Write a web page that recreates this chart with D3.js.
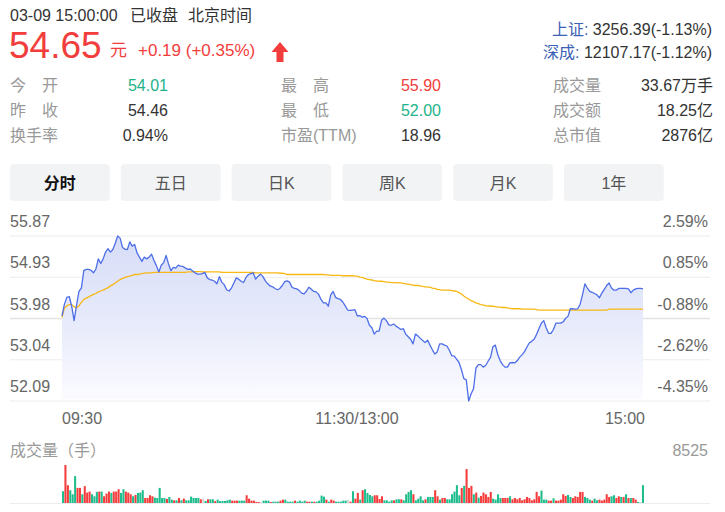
<!DOCTYPE html>
<html><head><meta charset="utf-8">
<script src="https://cdn.jsdelivr.net/npm/d3@7"></script>
<style>html,body{margin:0;padding:0;background:#fff;} svg{display:block;font-family:"Liberation Sans",Arial,"Noto Sans CJK SC",sans-serif;}</style>
</head><body><svg id="c" width="725" height="512"></svg>
<script>
// ---------- data ----------
const prices = [
54.01,54.29,54.45,54.47,54.24,53.90,54.26,54.59,54.67,55.08,
55.11,55.11,55.09,55.03,55.12,55.36,55.25,55.36,55.52,55.60,
55.52,55.58,55.73,55.90,55.85,55.63,55.59,55.58,55.76,55.66,
55.70,55.50,55.40,55.30,55.40,55.36,55.40,55.47,55.32,55.20,
55.05,55.21,55.27,55.44,55.24,55.08,55.16,55.14,55.21,55.19,
55.18,55.14,55.11,55.12,55.07,55.03,55.00,55.00,55.01,55.04,
54.91,54.87,54.86,54.83,54.77,54.94,54.81,54.75,54.63,54.60,
54.67,54.79,54.91,54.88,54.83,54.80,54.92,54.99,55.01,55.03,
54.88,54.95,55.00,54.94,54.84,54.77,54.72,54.70,54.66,54.63,
54.66,54.73,54.82,54.84,54.81,54.69,54.66,54.65,54.61,54.55,
54.53,54.60,54.69,54.64,54.59,54.58,54.52,54.40,54.32,54.32,
54.24,54.51,54.59,54.45,54.42,54.40,54.34,54.25,54.15,54.14,
54.15,54.16,54.01,54.02,53.98,54.00,53.95,53.79,53.73,53.58,
53.65,53.65,53.91,53.96,53.90,53.80,53.79,53.82,53.77,53.73,
53.69,53.71,53.58,53.52,53.46,53.35,53.58,53.54,53.48,53.43,
53.38,53.44,53.32,53.21,53.11,53.16,53.35,53.35,53.32,53.30,
53.20,53.07,53.06,52.99,52.91,52.74,52.53,52.50,52.00,52.17,
52.29,52.78,52.86,52.86,52.80,52.84,52.94,53.03,53.28,53.32,
53.10,52.95,52.86,52.80,52.80,52.90,52.91,52.90,52.95,53.03,
53.09,53.16,53.27,53.37,53.41,53.46,53.57,53.71,53.84,53.90,
53.73,53.60,53.60,53.69,53.84,53.84,53.84,53.87,53.95,54.00,
54.18,54.18,54.17,54.18,54.28,54.51,54.77,54.67,54.59,54.57,
54.54,54.51,54.44,54.55,54.64,54.73,54.79,54.67,54.62,54.62,
54.66,54.66,54.66,54.66,54.65,54.56,54.62,54.65,54.66,54.66,54.65];

const avgPrices = [
53.98,54.20,54.25,54.28,54.28,54.23,54.20,54.25,54.33,54.40,
54.43,54.46,54.49,54.52,54.54,54.58,54.60,54.62,54.65,54.68,
54.72,54.75,54.79,54.83,54.87,54.90,54.92,54.94,54.95,54.97,
54.99,54.99,55.00,55.01,55.02,55.03,55.03,55.03,55.04,55.04,
55.04,55.04,55.04,55.04,55.04,55.04,55.04,55.04,55.04,55.04,
55.04,55.04,55.05,55.05,55.05,55.06,55.06,55.06,55.05,55.05,
55.05,55.05,55.05,55.05,55.05,55.05,55.04,55.04,55.04,55.04,
55.04,55.04,55.04,55.04,55.04,55.04,55.04,55.04,55.04,55.04,
55.03,55.03,55.03,55.03,55.03,55.03,55.03,55.03,55.03,55.03,
55.02,55.02,55.01,54.99,54.99,54.99,54.99,54.99,54.99,54.99,
54.99,54.99,54.99,54.99,54.99,54.99,54.99,54.99,54.99,54.98,
54.98,54.97,54.97,54.97,54.97,54.97,54.96,54.96,54.96,54.96,
54.96,54.95,54.95,54.93,54.92,54.90,54.88,54.87,54.86,54.84,
54.84,54.83,54.83,54.82,54.81,54.81,54.80,54.80,54.80,54.79,
54.79,54.78,54.77,54.76,54.75,54.74,54.73,54.73,54.72,54.71,
54.70,54.69,54.69,54.67,54.66,54.64,54.63,54.62,54.62,54.62,
54.62,54.61,54.60,54.59,54.56,54.53,54.48,54.44,54.41,54.37,
54.35,54.32,54.30,54.28,54.27,54.25,54.25,54.24,54.24,54.23,
54.22,54.22,54.21,54.21,54.20,54.19,54.18,54.18,54.18,54.18,
54.17,54.17,54.17,54.17,54.17,54.17,54.16,54.15,54.15,54.15,
54.15,54.15,54.15,54.15,54.15,54.15,54.15,54.15,54.15,54.15,
54.15,54.15,54.15,54.15,54.15,54.15,54.15,54.15,54.15,54.15,
54.15,54.15,54.15,54.15,54.15,54.15,54.17,54.17,54.17,54.17,
54.17,54.17,54.17,54.17,54.17,54.17,54.17,54.17,54.17,54.17,54.17];

const volumes = [
2640,8525,4000,2865,1960,6030,3390,3390,1960,3770,
2340,2565,1960,1510,2490,2565,2565,1510,2110,2565,
2260,2565,2565,3090,2260,3090,2565,2340,1960,1510,
1810,2260,2340,2865,1130,1130,1735,1510,1205,1130,
3390,1130,1130,905,1360,755,600,600,1130,600,
980,600,600,1430,1130,1130,1130,830,980,450,
830,830,830,450,755,450,450,450,600,755,
530,530,530,530,530,530,1735,980,530,530,
225,225,225,530,530,530,225,300,300,300,
530,755,755,300,300,300,530,300,530,300,
530,300,300,300,300,300,530,1660,1430,755,
300,755,530,300,300,300,530,530,755,300,
2640,980,2260,755,2865,3090,2260,1810,1510,1735,
1735,905,1510,600,600,300,600,600,830,830,
830,600,1960,2490,2865,1960,600,980,1510,600,
830,1360,1360,1360,2865,1510,755,1130,1130,830,
830,1960,2565,4000,1735,3390,3845,7615,3390,3845,
1960,2340,1205,1585,2340,1960,1360,2490,980,755,
1960,1130,1130,1130,1130,1510,830,1130,830,1130,
600,830,1360,1130,600,830,2490,1510,2790,755,
755,530,530,1055,530,530,755,1960,1585,1810,
1360,1130,1510,1360,2490,2490,1360,1130,755,530,
980,600,755,530,755,1960,1360,1510,1735,1130,
1510,1360,1360,1960,1130,1130,1130,755,150,50,4000];

// r = up minute, g = down minute, n = flat
const volDirs = (
"grrgggrrgr"+"rrgggrgrrr"+"grrrggrrrg"+"rgggrrrrgg"+"gggrggrgrg"+
"rggggggrng"+"rggrgggggg"+"rrrgggrrrr"+"rrngggrggg"+"rrggggrggg"+
"grrgrggggr"+"grrgggggnr"+"grrgrggggr"+"rrrggggrgg"+"rggggrgggg"+
"rgggrrgrrg"+"gggggrgrrr"+"grgrrrrrgg"+"ggrrrgrrrr"+"rrrrrrrrgg"+
"grrgrrrrrg"+"grrrrrgggr"+"ggrrrrrggr"+"rgrgrgrrgn"+"g").split("");

const priceTicks = ["55.87","54.93","53.98","53.04","52.09"];
const pctTicks = ["2.59%","0.85%","-0.88%","-2.62%","-4.35%"];
const timeLabels = ["09:30","11:30/13:00","15:00"];
const tabs = ["分时","五日","日K","周K","月K","1年"];
const infoLabels = [["今　开","昨　收","换手率"],["最　高","最　低","市盈(TTM)"],["成交量","成交额","总市值"]];
const infoValues = [["54.01","54.46","0.94%"],["55.90","52.00","18.96"],["33.67万手","18.25亿","2876亿"]];
const infoTone = [["down","flat","flat"],["up","down","flat"],["flat","flat","flat"]];
const indexNames = ["上证:","深成:"];
const indexValues = ["3256.39(-1.13%)","12107.17(-1.12%)"];
const lastPrice = "54.65", change = "+0.19 (+0.35%)";
const headerTime = "03-09 15:00:00", headerState = "已收盘", headerZone = "北京时间";
const priceLow = 52.00, priceHigh = 55.90;

// ---------- styles ----------
const RED = "#f23d3d", GREEN = "#1db38a", GRAY_L = "#999", DARK = "#333";
const toneColor = {up: RED, down: GREEN, flat: DARK};
const barColor = {r: "#f53c3c", g: "#1fbd8d", n: "#d6d6d6"};

const svg = d3.select("#c");
function txt(g, x, y, s, o = {}) {
  return g.append("text").attr("x", x).attr("y", y).text(s)
    .attr("font-size", o.size || 16).attr("fill", o.fill || DARK)
    .attr("text-anchor", o.anchor || "start")
    .attr("font-weight", o.weight || "normal");
}

// ---------- header ----------
const head = svg.append("g");
txt(head, 10, 21, headerTime, {fill: "#333"});
txt(head, 130, 21, headerState, {fill: "#333"});
txt(head, 188, 21, headerZone, {fill: "#333"});
txt(head, 9, 58, lastPrice, {size: 37, fill: RED});
txt(head, 110, 56, "元", {size: 17, fill: RED});
txt(head, 138, 56, change, {size: 17, fill: RED});
head.append("path").attr("fill", RED)
  .attr("d", "M280,42 L288.5,52 L283.5,52 L283.5,62 L276.5,62 L276.5,52 L271.5,52 Z");
indexNames.forEach((n, i) => {
  const t = head.append("text").attr("x", 712).attr("y", 35 + i * 23)
    .attr("text-anchor", "end").attr("font-size", 16);
  t.append("tspan").attr("fill", "#3b62b5").text(n + " ");
  t.append("tspan").attr("fill", "#333").text(indexValues[i]);
});

// ---------- info table ----------
const colLabelX = [10, 281, 553], colValueX = [168, 441, 713], rowY = [91, 116, 141];
infoLabels.forEach((col, c) => col.forEach((lab, r) => {
  txt(svg, colLabelX[c], rowY[r], lab, {fill: GRAY_L});
  txt(svg, colValueX[c], rowY[r], infoValues[c][r], {fill: toneColor[infoTone[c][r]], anchor: "end"});
}));

// ---------- tabs ----------
const tabX = d3.scaleBand().domain(tabs).range([10, 663.7]).paddingInner(0.1);
tabs.forEach((t, i) => {
  svg.append("rect").attr("x", tabX(t)).attr("y", 164).attr("width", tabX.bandwidth())
    .attr("height", 37).attr("rx", 4).attr("fill", "#f2f3f5");
  txt(svg, tabX(t) + tabX.bandwidth() / 2, 189, t,
    {anchor: "middle", fill: i === 0 ? "#111" : "#555", weight: i === 0 ? "bold" : "normal"});
});

// ---------- price chart ----------
const x = d3.scaleLinear().domain([0, prices.length - 1]).range([62, 643]);
const y = d3.scaleLinear().domain([priceLow, priceHigh]).range([401, 236]);
const gridY = d3.scalePoint().domain(priceTicks).range([236, 401]);

const defs = svg.append("defs");
const grad = defs.append("linearGradient").attr("id", "fillg")
  .attr("x1", 0).attr("y1", 0).attr("x2", 0).attr("y2", 1)
  .attr("gradientUnits", "userSpaceOnUse")
  .attr("x1", 0).attr("y1", 236).attr("x2", 0).attr("y2", 401);
grad.append("stop").attr("offset", 0).attr("stop-color", "#d7ddf8");
grad.append("stop").attr("offset", 0.55).attr("stop-color", "#e8ebfb");
grad.append("stop").attr("offset", 1).attr("stop-color", "#fcfcff");

priceTicks.forEach((t, i) => {
  svg.append("line").attr("x1", 10).attr("x2", 710)
    .attr("y1", gridY(t)).attr("y2", gridY(t))
    .attr("stroke", i === 2 ? "#e3e3e6" : "#ececef").attr("stroke-width", i === 2 ? 1.5 : 1);
});

svg.append("path").datum(prices)
  .attr("fill", "url(#fillg)")
  .attr("d", d3.area().x((d, i) => x(i)).y0(399).y1(d => y(d)));

svg.append("path").datum(avgPrices)
  .attr("fill", "none").attr("stroke", "#f7b814").attr("stroke-width", 1.3)
  .attr("d", d3.line().x((d, i) => x(i)).y(d => y(d)));

svg.append("path").datum(prices)
  .attr("fill", "none").attr("stroke", "#4d6ee8").attr("stroke-width", 1.3)
  .attr("stroke-linejoin", "round")
  .attr("d", d3.line().x((d, i) => x(i)).y(d => y(d)));

priceTicks.forEach((t, i) => {
  txt(svg, 10, gridY(t) - 9, t, {fill: "#666"});
  txt(svg, 708, gridY(t) - 9, pctTicks[i], {fill: "#666", anchor: "end"});
});

// time labels
txt(svg, x(0), 424, timeLabels[0], {fill: "#666"});
txt(svg, 357, 424, timeLabels[1], {fill: "#666", anchor: "middle"});
txt(svg, x(prices.length - 1) + 2, 424, timeLabels[2], {fill: "#666", anchor: "end"});

// ---------- volume ----------
const vMax = d3.max(volumes);
txt(svg, 10, 456, "成交量（手）", {fill: GRAY_L});
txt(svg, 708, 456, String(vMax), {fill: GRAY_L, anchor: "end"});
const xb = d3.scaleBand().domain(d3.range(volumes.length)).range([62, 644]).paddingInner(0.15);
const yv = d3.scaleLinear().domain([0, vMax]).range([503, 465]);
svg.append("line").attr("x1", 10).attr("x2", 710).attr("y1", 503.5).attr("y2", 503.5)
  .attr("stroke", "#ececef").attr("stroke-width", 1);
svg.append("g").selectAll("rect").data(volumes).join("rect")
  .attr("x", (d, i) => xb(i)).attr("width", xb.bandwidth())
  .attr("y", d => Math.min(yv(d), 502)).attr("height", d => Math.max(503 - yv(d), 1))
  .attr("fill", (d, i) => barColor[volDirs[i]]);
</script></body></html>
